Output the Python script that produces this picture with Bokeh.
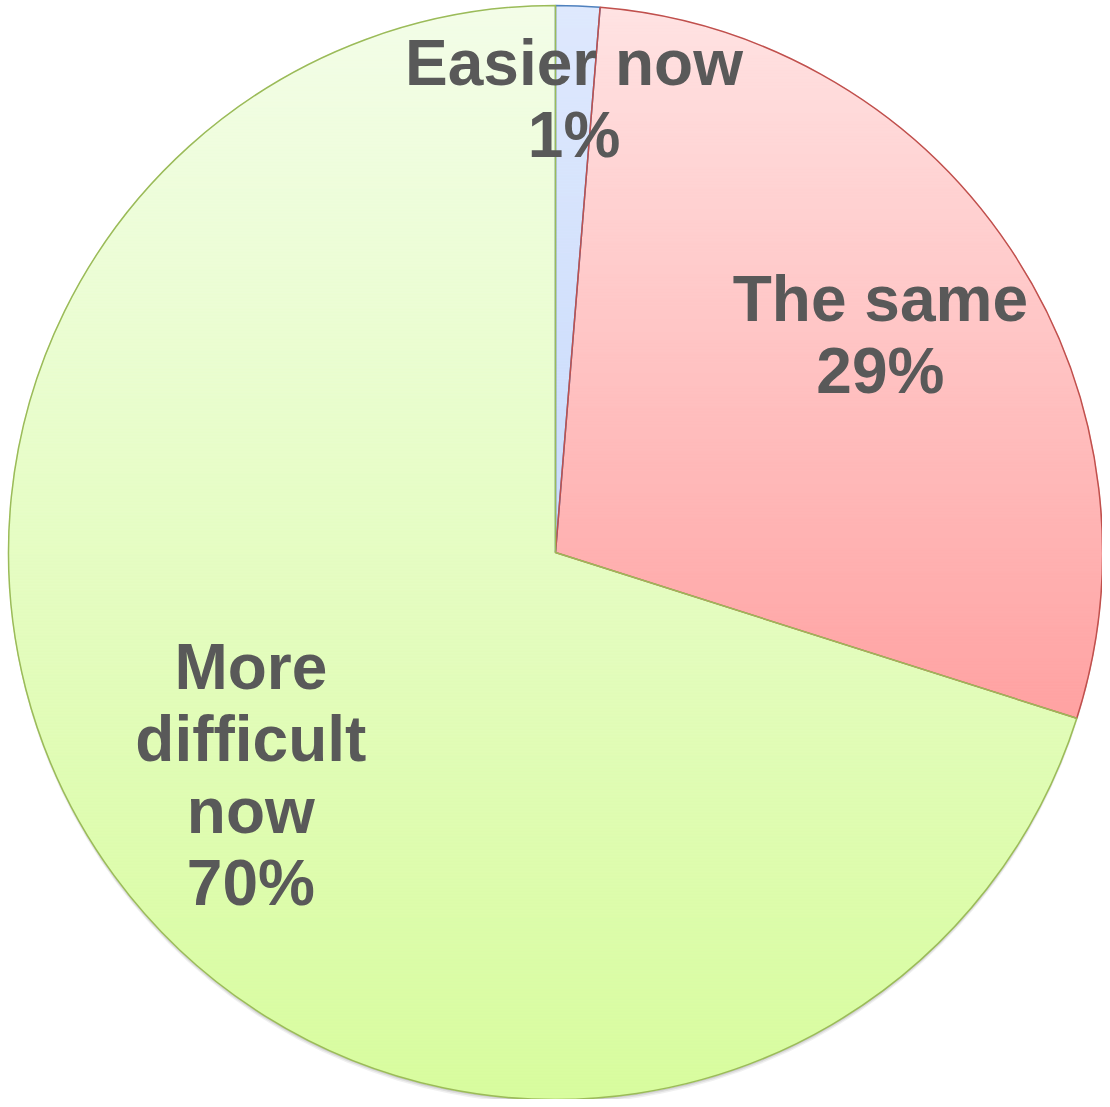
import numpy as np
from bokeh.plotting import figure
from bokeh.models import Range1d
from bokeh.core.properties import value
from bokeh.embed import file_html
from bokeh.resources import INLINE

# ---- data ----
categories = ["Easier now", "The same", "More difficult now"]
label_lines = [["Easier now"], ["The same"], ["More", "difficult", "now"]]
shares = [1.3, 28.6, 70.1]

# ---- styling / layout ----
W, H = 1102, 1099
cx, cy, R = 555, 1099 - 552, 547
top_colors = ["#DEE8FD", "#FFE3E3", "#F3FDE8"]
bottom_colors = ["#C9DBFB", "#FFA2A2", "#D8FC9E"]
edge_colors = ["#4F81BD", "#C0504D", "#9BBB59"]
label_r = [0.83, 0.715, 0.69]
LINE_STEP = 72
TEXT_COLOR = "#595959"


def hex_to_rgb(h):
    h = h.lstrip("#")
    return np.array([int(h[i:i + 2], 16) for i in (0, 2, 4)], dtype=float)


def mix(c0, c1, t):
    a, b = hex_to_rgb(c0), hex_to_rgb(c1)
    c = a + (b - a) * min(max(t, 0.0), 1.0)
    return "#%02x%02x%02x" % tuple(int(round(v)) for v in c)


def clip(poly, y0, keep_above):
    out = []
    n = len(poly)
    for i in range(n):
        P = poly[i]
        Q = poly[(i + 1) % n]
        inP = P[1] >= y0 if keep_above else P[1] <= y0
        inQ = Q[1] >= y0 if keep_above else Q[1] <= y0
        if inP:
            out.append(P)
        if inP != inQ:
            t = (y0 - P[1]) / (Q[1] - P[1])
            out.append((P[0] + t * (Q[0] - P[0]), y0))
    return out


p = figure(width=W, height=H, x_range=Range1d(0, W), y_range=Range1d(0, H),
           output_backend="svg", toolbar_location=None, min_border=0)
p.axis.visible = False
p.grid.visible = False
p.outline_line_color = None
p.background_fill_color = "white"
p.border_fill_color = "white"

# soft shadow below the pie
for off, a in [(1.5, 0.10), (3.0, 0.08), (4.5, 0.06)]:
    p.circle(x=[cx], y=[cy - off], radius=R, fill_color="black", fill_alpha=a,
             line_color=None)

total = float(sum(shares))
fracs = [s / total for s in shares]
starts = np.concatenate([[0.0], np.cumsum(fracs)[:-1]]) * 2 * np.pi
ends = np.cumsum(fracs) * 2 * np.pi

# gradient-filled slices (horizontal bands clipped to each wedge)
for i in range(len(shares)):
    t0, t1 = starts[i], ends[i]
    ts = np.linspace(t0, t1, max(4, int((t1 - t0) / np.radians(0.5)) + 2))
    poly = [(cx, cy)] + [(cx + R * np.sin(t), cy + R * np.cos(t)) for t in ts]
    ys = [q[1] for q in poly]
    ymin, ymax = min(ys), max(ys)
    step = 3.0
    xs_list, ys_list, cols = [], [], []
    y0 = ymin
    while y0 < ymax:
        band = clip(poly, y0, True)
        if len(band) >= 3:
            band = clip(band, y0 + step + 0.5, False)
        if len(band) >= 3:
            xs_list.append([q[0] for q in band])
            ys_list.append([q[1] for q in band])
            tt = (ymax - (y0 + step / 2)) / (ymax - ymin)
            cols.append(mix(top_colors[i], bottom_colors[i], tt))
        y0 += step
    p.patches(xs=xs_list, ys=ys_list, fill_color=cols, line_color=cols,
              line_width=0.8)

# slice outlines
for i in range(len(shares)):
    p.wedge(x=[cx], y=[cy], radius=R,
            start_angle=np.pi / 2 - starts[i], end_angle=np.pi / 2 - ends[i],
            direction="clock", fill_color=None, line_color=edge_colors[i],
            line_width=1.5)

# labels
for i in range(len(shares)):
    mid = (starts[i] + ends[i]) / 2
    ax = cx + label_r[i] * R * np.sin(mid)
    ay = cy + label_r[i] * R * np.cos(mid)
    lines = label_lines[i] + ["%d%%" % round(shares[i])]
    n = len(lines)
    xs = [ax] * n
    ys = [ay + ((n - 1) / 2 - j) * LINE_STEP for j in range(n)]
    p.text(x=xs, y=ys, text=lines, text_font=value("Liberation Sans"),
           text_font_style="bold", text_font_size="64px", text_color=TEXT_COLOR,
           text_align="center", text_baseline="middle")

open("out.html", "w").write(file_html(p, INLINE))
